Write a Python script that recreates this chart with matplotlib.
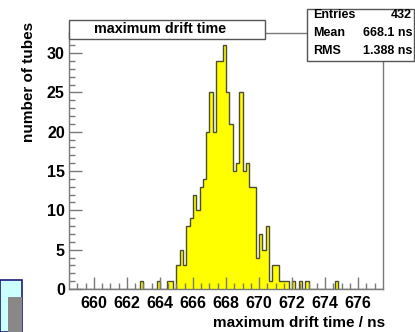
import matplotlib
matplotlib.use("Agg")
import matplotlib.pyplot as plt
from matplotlib.patches import Rectangle
import numpy as np

# histogram: lower edge of each filled bin (ns) and its content
bin_lo = [662.8, 663.8, 664.4, 664.6,
          665.0, 665.2, 665.4, 665.6, 665.8, 666.0, 666.2, 666.4, 666.6,
          666.8, 667.0, 667.2, 667.4, 667.6, 667.8, 668.0, 668.2, 668.4,
          668.6, 668.8, 669.0, 669.2, 669.4, 669.6, 669.8, 670.0, 670.2,
          670.4, 670.6, 670.8, 671.0, 671.2, 671.4,
          671.6, 672.0, 672.4, 672.8, 674.6]
counts = [1, 1, 1, 1,
          3, 5, 3, 8, 9, 12, 10, 13, 14,
          20, 25, 20, 29, 29, 31, 25, 21, 15,
          16, 25, 15, 16, 13, 13, 4, 7, 5,
          8, 1, 3, 3, 1, 1,
          1, 1, 1, 1, 1]
bin_width = 0.2
x_range = (658.5, 677.5)
y_max = 32.55

stats_names = ['Entries', 'Mean', 'RMS']
stats_vals = ['432', '668.1 ns', '1.388 ns']

W, H = 415, 332
fig = plt.figure(figsize=(W / 100, H / 100), dpi=100)


def fx(x):
    return x / W


def fy(y):
    return 1 - y / H


FONT = 'Liberation Sans'
frame_col = '#7a7a7a'

# decoration in the lower left corner (slide background)
fig.add_artist(Rectangle((fx(0), fy(332)), fx(22), 52 / H, transform=fig.transFigure,
                         facecolor='#ccffff', edgecolor='#1a1a80', lw=1.2))
fig.add_artist(Rectangle((fx(8), fy(332)), fx(14), 35 / H, transform=fig.transFigure,
                         facecolor='#888888', edgecolor='none'))

ax = fig.add_axes([fx(69), fy(289), fx(383 - 69), (289 - 33) / H])

edges = np.round(np.arange(658.4, 677.6 + bin_width / 2, bin_width), 1)
full = np.zeros(len(edges) - 1)
idx = np.round((np.array(bin_lo) - edges[0]) / bin_width).astype(int)
full[idx] = counts

ax.stairs(full, edges, fill=True, color='#ffff00', baseline=0)
ax.stairs(full, edges, color='#4d4d33', lw=1.0, baseline=0)

ax.set_xlim(*x_range)
ax.set_ylim(0, y_max)

for s in ['left', 'right', 'top', 'bottom']:
    ax.spines[s].set_color(frame_col)
    ax.spines[s].set_linewidth(1.0)

ax.set_xticks(np.arange(660, 677, 2))
ax.set_xticks(np.arange(659, 677.5, 0.5), minor=True)
ax.set_yticks(np.arange(0, 31, 5))
ax.set_yticks(np.arange(0, 32, 1), minor=True)
ax.tick_params(which='both', direction='in', top=False, right=False, color=frame_col)
ax.tick_params(which='major', length=9, width=1)
ax.tick_params(which='minor', length=4, width=1)
ax.tick_params(axis='x', pad=5)
ax.tick_params(axis='y', pad=3)
for lab in ax.get_xticklabels() + ax.get_yticklabels():
    lab.set_fontfamily(FONT)
    lab.set_fontweight('bold')
    lab.set_fontsize(11.5)

fig.text(fx(385), fy(323), 'maximum drift time / ns', ha='right', va='center',
         fontfamily=FONT, fontweight='bold', fontsize=11)
fig.text(fx(29), fy(22), 'number of tubes', ha='center', va='top', rotation=90,
         fontfamily=FONT, fontweight='bold', fontsize=11)

# title box
fig.add_artist(Rectangle((fx(69), fy(39)), fx(265 - 69), 19 / H, transform=fig.transFigure,
                         facecolor='white', edgecolor='#555555', lw=1.0, zorder=5))
fig.text(fx(160), fy(29), 'maximum drift time', ha='center', va='center',
         fontfamily=FONT, fontweight='bold', fontsize=10.3, zorder=6)

# statistics box
fig.add_artist(Rectangle((fx(307), fy(61)), fx(414 - 307), 52 / H, transform=fig.transFigure,
                         facecolor='white', edgecolor='#555555', lw=1.0, zorder=5))
for i, (n, v) in enumerate(zip(stats_names, stats_vals)):
    yy = fy(15.5 + i * 18)
    fig.text(fx(313), yy, n, ha='left', va='center', fontfamily=FONT,
             fontweight='bold', fontsize=9, zorder=6)
    fig.text(fx(412), yy, v, ha='right', va='center', fontfamily=FONT,
             fontweight='bold', fontsize=9, zorder=6)

fig.savefig('out.png', dpi=100)
